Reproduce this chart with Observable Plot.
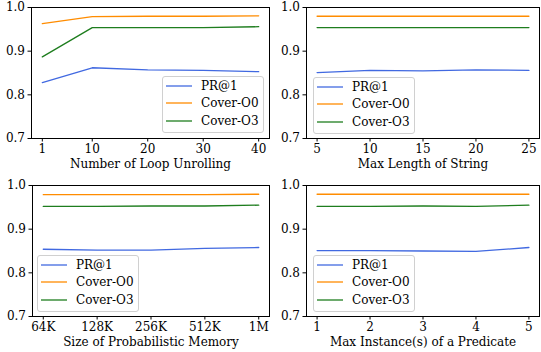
<!DOCTYPE html>
<html>
<head>
<meta charset="utf-8">
<script src="https://cdn.jsdelivr.net/npm/d3@7"></script>
<script src="https://cdn.jsdelivr.net/npm/@observablehq/plot@0.6"></script>
<style>
  html, body { margin: 0; padding: 0; background: #fff; }
  #root { position: relative; width: 541px; height: 352px; font-family: "DejaVu Serif", serif; }
  .panel { position: absolute; }
  .legend { position: absolute; border: 1px solid #d0d0d0; border-radius: 3px; background: rgba(255,255,255,0.85);
            font: 12px "DejaVu Serif", serif; color: #000; box-sizing: border-box; padding: 0 0 0 3px; }
  .legend .row { display: flex; align-items: center; height: 17.6px; white-space: nowrap; }
  .legend svg { margin-right: 9px; }
</style>
</head>
<body>
<div id="root"></div>
<script>
// ---- data ----
const seriesNames = ["PR@1", "Cover-O0", "Cover-O3"];
const seriesColors = ["#4169e1", "#ff8c00", "#1e7d1e"];

const loopX = [1, 10, 20, 30, 40];
const loopPR = [0.828, 0.862, 0.857, 0.856, 0.853];
const loopO0 = [0.963, 0.979, 0.980, 0.980, 0.981];
const loopO3 = [0.887, 0.954, 0.954, 0.954, 0.956];

const strX = [5, 10, 15, 20, 25];
const strPR = [0.851, 0.856, 0.855, 0.857, 0.856];
const strO0 = [0.980, 0.980, 0.980, 0.980, 0.980];
const strO3 = [0.954, 0.954, 0.954, 0.954, 0.954];

const memLabels = ["64K", "128K", "256K", "512K", "1M"];
const memPR = [0.854, 0.852, 0.852, 0.856, 0.858];
const memO0 = [0.979, 0.979, 0.979, 0.979, 0.980];
const memO3 = [0.952, 0.952, 0.953, 0.953, 0.955];

const instX = [1, 2, 3, 4, 5];
const instPR = [0.851, 0.851, 0.850, 0.849, 0.858];
const instO0 = [0.980, 0.980, 0.980, 0.980, 0.980];
const instO3 = [0.952, 0.952, 0.953, 0.952, 0.955];

const yTicks = [0.7, 0.8, 0.9, 1.0];

// ---- helpers ----
function rows(xs, ys) {
  const out = [];
  ys.forEach((arr, s) => arr.forEach((v, i) => out.push({x: xs[i], y: v, series: seriesNames[s]})));
  return out;
}

function panel({left, top, data, xDomain, xTicks, xFormat, xLabel, marginLeft, legendPos}) {
  const chart = Plot.plot({
    width: 270, height: 176,
    marginLeft, marginRight: 1, marginTop: 7, marginBottom: 38,
    style: {fontFamily: "DejaVu Serif, serif", fontSize: "12px", color: "#000", background: "transparent", overflow: "visible"},
    x: {domain: xDomain},
    y: {domain: [0.7, 1.0]},
    color: {domain: seriesNames, range: seriesColors},
    marks: [
      Plot.line(data, {x: "x", y: "y", stroke: "series", z: "series", strokeWidth: 1.3}),
      Plot.frame({stroke: "#000", strokeWidth: 1}),
      Plot.axisY({ticks: yTicks, tickFormat: d3.format(".1f"), tickSize: 3.5, tickPadding: 3, fontSize: 12, label: null}),
      Plot.axisX({ticks: xTicks, tickFormat: xFormat, tickSize: 3.5, tickPadding: 2.5, fontSize: 12,
                  label: xLabel, labelAnchor: "center", labelArrow: "none", labelOffset: 29})
    ]
  });
  chart.classList.add("panel");
  chart.style.left = left + "px";
  chart.style.top = top + "px";
  root.appendChild(chart);

  const lg = document.createElement("div");
  lg.className = "legend";
  lg.style.left = legendPos[0] + "px";
  lg.style.top = legendPos[1] + "px";
  lg.style.width = "102px";
  lg.style.height = "57px";
  seriesNames.forEach((n, i) => {
    const r = document.createElement("div");
    r.className = "row";
    r.innerHTML = `<svg width="26" height="4"><line x1="0" x2="26" y1="2" y2="2" stroke="${seriesColors[i]}" stroke-width="1.3"/></svg><span>${n}</span>`;
    lg.appendChild(r);
  });
  root.appendChild(lg);
}

const root = document.getElementById("root");

panel({left: 0, top: 0, marginLeft: 31, data: rows(loopX, [loopPR, loopO0, loopO3]),
  xDomain: [-0.95, 41.95], xTicks: loopX, xFormat: d => String(d), xLabel: "Number of Loop Unrolling",
  legendPos: [162, 76]});

panel({left: 270, top: 0, marginLeft: 36, data: rows(strX, [strPR, strO0, strO3]),
  xDomain: [4, 26], xTicks: strX, xFormat: d => String(d), xLabel: "Max Length of String",
  legendPos: [313, 77]});

panel({left: 0, top: 178, marginLeft: 32, data: rows([0, 1, 2, 3, 4], [memPR, memO0, memO3]),
  xDomain: [-0.2, 4.2], xTicks: [0, 1, 2, 3, 4], xFormat: i => memLabels[i], xLabel: "Size of Probabilistic Memory",
  legendPos: [37, 255]});

panel({left: 270, top: 178, marginLeft: 36, data: rows(instX, [instPR, instO0, instO3]),
  xDomain: [0.8, 5.2], xTicks: instX, xFormat: d => String(d), xLabel: "Max Instance(s) of a Predicate",
  legendPos: [313, 255]});
</script>
</body>
</html>
